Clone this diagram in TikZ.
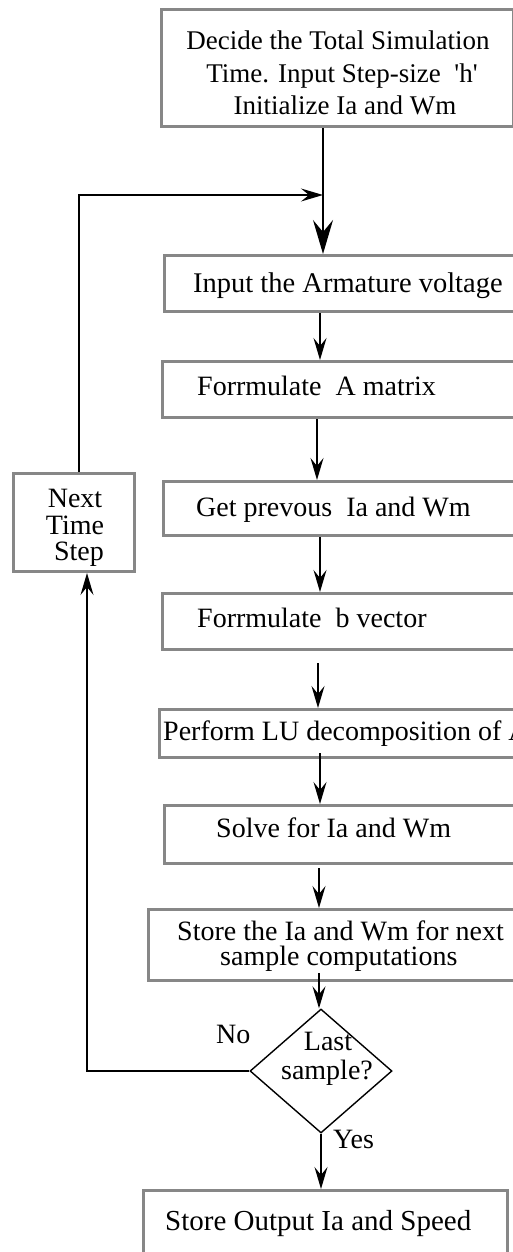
\documentclass[tikz,border=0pt]{standalone}
\usepackage{fontspec}
\setmainfont{Liberation Serif}
\usetikzlibrary{arrows.meta,shapes.geometric,calc}
\definecolor{boxgray}{RGB}{135,135,135}
\begin{document}
\begin{tikzpicture}[x=1pt,y=-1pt,
  boxst/.style={draw=boxgray, line width=3pt, rectangle, inner sep=0pt, anchor=north west},
  txt/.style={inner sep=0pt, anchor=base west, font=\fontsize{28}{33}\selectfont},
  ctxt/.style={inner sep=0pt, anchor=base, font=\fontsize{28}{33}\selectfont},
  arr/.style={draw=black, line width=1.4pt, -{Stealth[length=22pt,width=13pt,inset=8pt]}},
  bigarr/.style={draw=black, line width=1.6pt, -{Stealth[length=34pt,width=20pt,inset=12pt]}},
  decst/.style={draw=black, line width=1.4pt, shape=diamond, inner sep=0pt, minimum width=142pt, minimum height=124pt}]
\clip (0,0) rectangle (513,1252);
\fill[white] (0,0) rectangle (513,1252);
% boxes
\node[boxst, minimum width=352pt, minimum height=117pt] (b1) at (160,8) {};
\node[boxst, minimum width=377pt, minimum height=56pt] (b2) at (163,254) {};
\node[boxst, minimum width=379pt, minimum height=56pt] (b3) at (161,360) {};
\node[boxst, minimum width=378pt, minimum height=54pt] (b4) at (162,480) {};
\node[boxst, minimum width=379pt, minimum height=56pt] (b5) at (161,592) {};
\node[boxst, minimum width=382pt, minimum height=48pt] (b6) at (158,708) {};
\node[boxst, minimum width=377pt, minimum height=58pt] (b7) at (163,804) {};
\node[boxst, minimum width=393pt, minimum height=71pt] (b8) at (147,908) {};
\node[boxst, minimum width=364pt, minimum height=80pt] (b9) at (142,1189) {};
\node[boxst, minimum width=121pt, minimum height=98pt] (bn) at (12,472) {};
\node[decst] (d) at (321,1071) {};
% texts
\node[ctxt, font=\fontsize{27}{33}\selectfont] (t1a) at (338,50) {Decide the Total Simulation};
\node[ctxt, font=\fontsize{27}{33}\selectfont] (t1b) at (342,83) {Time. Input Step-size\ \ \textquotesingle h\textquotesingle};
\node[ctxt, font=\fontsize{27}{33}\selectfont] (t1c) at (345,115) {Initialize Ia and Wm};
\node[txt, font=\fontsize{28.5}{33}\selectfont] (t2) at (193,292) {Input the Armature voltage};
\node[txt] (t3) at (197,395) {Forrmulate\ \ A matrix};
\node[txt] (t4) at (196,516) {Get prevous\ \ Ia and Wm};
\node[txt] (t5) at (197,627) {Forrmulate\ \ b vector};
\node[txt] (t6) at (163,740) {Perform LU decomposition of A};
\node[txt] (t7) at (216,837) {Solve for Ia and Wm};
\node[txt] (t8a) at (177,940) {Store the Ia and Wm for next};
\node[txt] (t8b) at (220,965) {sample computations};
\node[txt, font=\fontsize{29}{33}\selectfont] (t9) at (165,1230) {Store Output Ia and Speed};
\node[ctxt] (tna) at (75,507) {Next};
\node[ctxt] (tnb) at (75,534) {Time};
\node[ctxt] (tnc) at (79,560) {Step};
\node[ctxt] (tda) at (328,1050) {Last};
\node[ctxt] (tdb) at (327,1079) {sample?};
\node[txt] (tno) at (216,1043) {No};
\node[txt] (tyes) at (333,1148) {Yes};
% spine coordinates
\coordinate (x1) at (323,0);
\coordinate (x2) at (320,0);
\coordinate (x3) at (317,0);
\coordinate (x4) at (320,0);
\coordinate (x5) at (318,0);
\coordinate (x6) at (320,0);
\coordinate (x7) at (319,0);
\coordinate (x8) at (319,0);
\coordinate (x9) at (321,0);
\coordinate (xn) at (87,0);
\coordinate (fb) at (79,195);
% connectors
\draw[bigarr] (b1.south -| x1) -- (b2.north -| x1);
\draw[arr] (b2.south -| x2) -- (b3.north -| x2);
\draw[arr] (b3.south -| x3) -- (b4.north -| x3);
\draw[arr] (b4.south -| x4) -- (b5.north -| x4);
\draw[arr] ([yshift=-12pt]b5.south -| x5) -- (b6.north -| x5);
\draw[arr] ([yshift=6pt]b6.south -| x6) -- (b7.north -| x6);
\draw[arr] ([yshift=-3pt]b7.south -| x7) -- (b8.north -| x7);
\draw[arr] ([yshift=9pt]b8.south -| x8) -- (d.north -| x8);
\draw[arr] (d.south -| x9) -- (b9.north -| x9);
\draw[arr] (d.west) -- (d.west -| xn) -- (bn.south -| xn);
\draw[arr] (bn.north -| fb) -- (fb) -- (fb -| x1);
\end{tikzpicture}
\end{document}
